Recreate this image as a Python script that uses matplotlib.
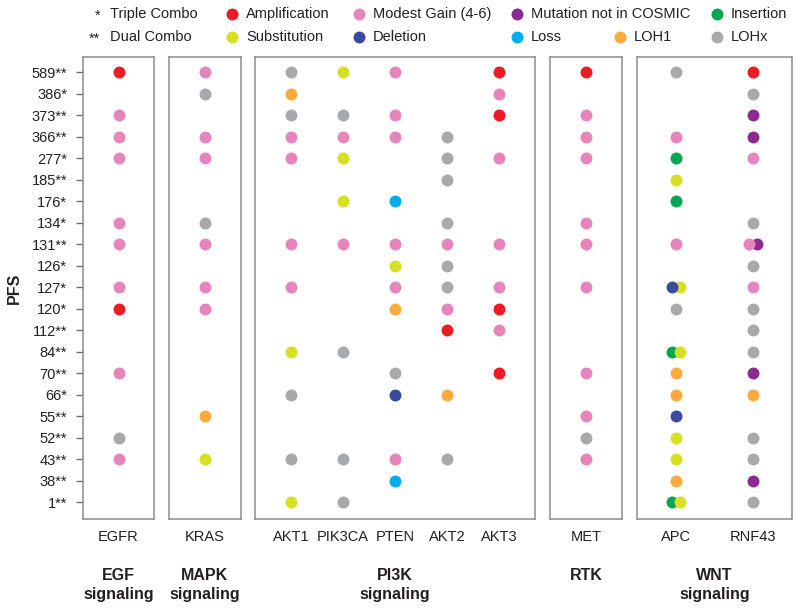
import matplotlib
matplotlib.use('Agg')
import matplotlib.pyplot as plt
from matplotlib.transforms import ScaledTranslation

plt.rcParams['font.family'] = ['Liberation Sans', 'DejaVu Sans']

pfs = ['589**', '386*', '373**', '366**', '277*', '185**', '176*', '134*', '131**', '126*',
       '127*', '120*', '112**', '84**', '70**', '66*', '55**', '52**', '43**', '38**', '1**']

colors = {
    'amp': '#ED1C24', 'gain': '#E684BC', 'mut': '#8B2A90', 'ins': '#00A651',
    'sub': '#D7DF23', 'del': '#3A4A9F', 'loss': '#00AEEF', 'loh1': '#FBAA3C', 'lohx': '#A7A9AC',
}
legend_names = {
    'amp': 'Amplification', 'gain': 'Modest Gain (4-6)', 'mut': 'Mutation not in COSMIC',
    'ins': 'Insertion', 'sub': 'Substitution', 'del': 'Deletion', 'loss': 'Loss',
    'loh1': 'LOH1', 'lohx': 'LOHx',
}

EGFR = {'589**': 'amp', '373**': 'gain', '366**': 'gain', '277*': 'gain', '134*': 'gain',
        '131**': 'gain', '127*': 'gain', '120*': 'amp', '70**': 'gain', '52**': 'lohx', '43**': 'gain'}
KRAS = {'589**': 'gain', '386*': 'lohx', '366**': 'gain', '277*': 'gain', '134*': 'lohx',
        '131**': 'gain', '127*': 'gain', '120*': 'gain', '55**': 'loh1', '43**': 'sub'}
AKT1 = {'589**': 'lohx', '386*': 'loh1', '373**': 'lohx', '366**': 'gain', '277*': 'gain',
        '131**': 'gain', '127*': 'gain', '84**': 'sub', '66*': 'lohx', '43**': 'lohx', '1**': 'sub'}
PIK3CA = {'589**': 'sub', '373**': 'lohx', '366**': 'gain', '277*': 'sub', '176*': 'sub',
          '131**': 'gain', '84**': 'lohx', '43**': 'lohx', '1**': 'lohx'}
PTEN = {'589**': 'gain', '373**': 'gain', '366**': 'gain', '176*': 'loss', '131**': 'gain',
        '126*': 'sub', '127*': 'gain', '120*': 'loh1', '70**': 'lohx', '66*': 'del',
        '43**': 'gain', '38**': 'loss'}
AKT2 = {'366**': 'lohx', '277*': 'lohx', '185**': 'lohx', '134*': 'lohx', '131**': 'gain',
        '126*': 'lohx', '127*': 'lohx', '120*': 'gain', '112**': 'amp', '66*': 'loh1', '43**': 'lohx'}
AKT3 = {'589**': 'amp', '386*': 'gain', '373**': 'amp', '277*': 'gain', '131**': 'gain',
        '127*': 'gain', '120*': 'amp', '112**': 'gain', '70**': 'amp'}
MET = {'589**': 'amp', '373**': 'gain', '366**': 'gain', '277*': 'gain', '134*': 'gain',
       '131**': 'gain', '127*': 'gain', '70**': 'gain', '55**': 'gain', '52**': 'lohx', '43**': 'gain'}
# two calls in one cell: list in drawing order, with side (-1 left, +1 right)
APC = {'589**': 'lohx', '366**': 'gain', '277*': 'ins', '185**': 'sub', '176*': 'ins',
       '131**': 'gain', '127*': [('sub', 1), ('del', -1)], '120*': 'lohx',
       '84**': [('ins', -1), ('sub', 1)], '70**': 'loh1', '66*': 'loh1', '55**': 'del',
       '52**': 'sub', '43**': 'sub', '38**': 'loh1', '1**': [('ins', -1), ('sub', 1)]}
RNF43 = {'589**': 'amp', '386*': 'lohx', '373**': 'mut', '366**': 'mut', '277*': 'gain',
         '134*': 'lohx', '131**': [('mut', 1), ('gain', -1)], '126*': 'lohx', '127*': 'gain',
         '120*': 'lohx', '112**': 'lohx', '84**': 'lohx', '70**': 'mut', '66*': 'loh1',
         '52**': 'lohx', '43**': 'lohx', '38**': 'mut', '1**': 'lohx'}

panels = [
    ('EGF\nsignaling', ['EGFR'], [EGFR]),
    ('MAPK\nsignaling', ['KRAS'], [KRAS]),
    ('PI3K\nsignaling', ['AKT1', 'PIK3CA', 'PTEN', 'AKT2', 'AKT3'], [AKT1, PIK3CA, PTEN, AKT2, AKT3]),
    ('RTK', ['MET'], [MET]),
    ('WNT\nsignaling', ['APC', 'RNF43'], [APC, RNF43]),
]

# panel boxes in pixels: left, width, x-limits
boxes = [(83, 71, (-0.5, 0.5)), (169, 72, (-0.5, 0.5)), (255, 280, (-0.69, 4.69)),
         (550, 72, (-0.5, 0.5)), (637, 155, (-0.5, 1.5))]

W, H = 800, 611
fig = plt.figure(figsize=(8, 6.11), dpi=100)
top_px, bot_px = 57, 519
dot = 74
txt = '#231F20'

for i, ((group, genes, calls), (left, width, xl)) in enumerate(zip(panels, boxes)):
    ax = fig.add_axes([left / W, 1 - bot_px / H, width / W, (bot_px - top_px) / H])
    for gi, (gene, call) in enumerate(zip(genes, calls)):
        for row, c in call.items():
            y = pfs.index(row)
            if isinstance(c, str):
                ax.scatter(gi, y, s=dot, color=colors[c], lw=0, zorder=3)
            else:
                for cat, side in c:
                    tr = ax.transData + ScaledTranslation(side * 3.0 / 72, 0, fig.dpi_scale_trans)
                    ax.scatter(gi, y, s=dot, color=colors[cat], lw=0, zorder=3, transform=tr)
    ax.set_xlim(*xl)
    ax.set_ylim(len(pfs) - 1 + 0.78, -0.7)
    ax.set_xticks(range(len(genes)))
    ax.set_xticklabels(genes, fontsize=10.5, color=txt)
    ax.tick_params(axis='x', length=0, pad=8)
    for sp in ax.spines.values():
        sp.set_color('#8C8C8C')
        sp.set_linewidth(1.1)
    if i == 0:
        ax.set_yticks(range(len(pfs)))
        ax.set_yticklabels(pfs, fontsize=10.5, color=txt)
        ax.tick_params(axis='y', length=5, width=1, color='#6E6E6E', pad=6.5)
    else:
        ax.set_yticks([])
    cx = (left + width / 2) / W
    fig.text(cx, 1 - 568 / H, group, ha='center', va='top', fontsize=11.5,
             fontweight='bold', color=txt, linespacing=1.35)

fig.text(14 / W, 1 - 288 / H, 'PFS', rotation=90, ha='center', va='center',
         fontsize=11.5, fontweight='bold', color=txt)

# legend drawn in pixel space
lax = fig.add_axes([0, 0, 1, 1])
lax.set_xlim(0, W)
lax.set_ylim(H, 0)
lax.axis('off')
row1, row2 = 14, 37
fig.text(100 / W, 1 - (row1 + 2) / H, '*', ha='right', va='center', fontsize=10.5, color=txt)
fig.text(110 / W, 1 - row1 / H, 'Triple Combo', ha='left', va='center', fontsize=10.5, color=txt)
fig.text(100 / W, 1 - (row2 + 2) / H, '**', ha='right', va='center', fontsize=10.5, color=txt)
fig.text(110 / W, 1 - row2 / H, 'Dual Combo', ha='left', va='center', fontsize=10.5, color=txt)
legend_items = [('amp', 232, row1), ('gain', 359, row1), ('mut', 517, row1), ('ins', 717, row1),
                ('sub', 232, row2), ('del', 359, row2), ('loss', 517, row2), ('loh1', 620, row2),
                ('lohx', 717, row2)]
for cat, lx, ly in legend_items:
    lax.scatter(lx, ly, s=dot, color=colors[cat], lw=0)
    lax.text(lx + 14, ly, legend_names[cat], ha='left', va='center', fontsize=10.5, color=txt)

fig.savefig('out.png', dpi=100)
